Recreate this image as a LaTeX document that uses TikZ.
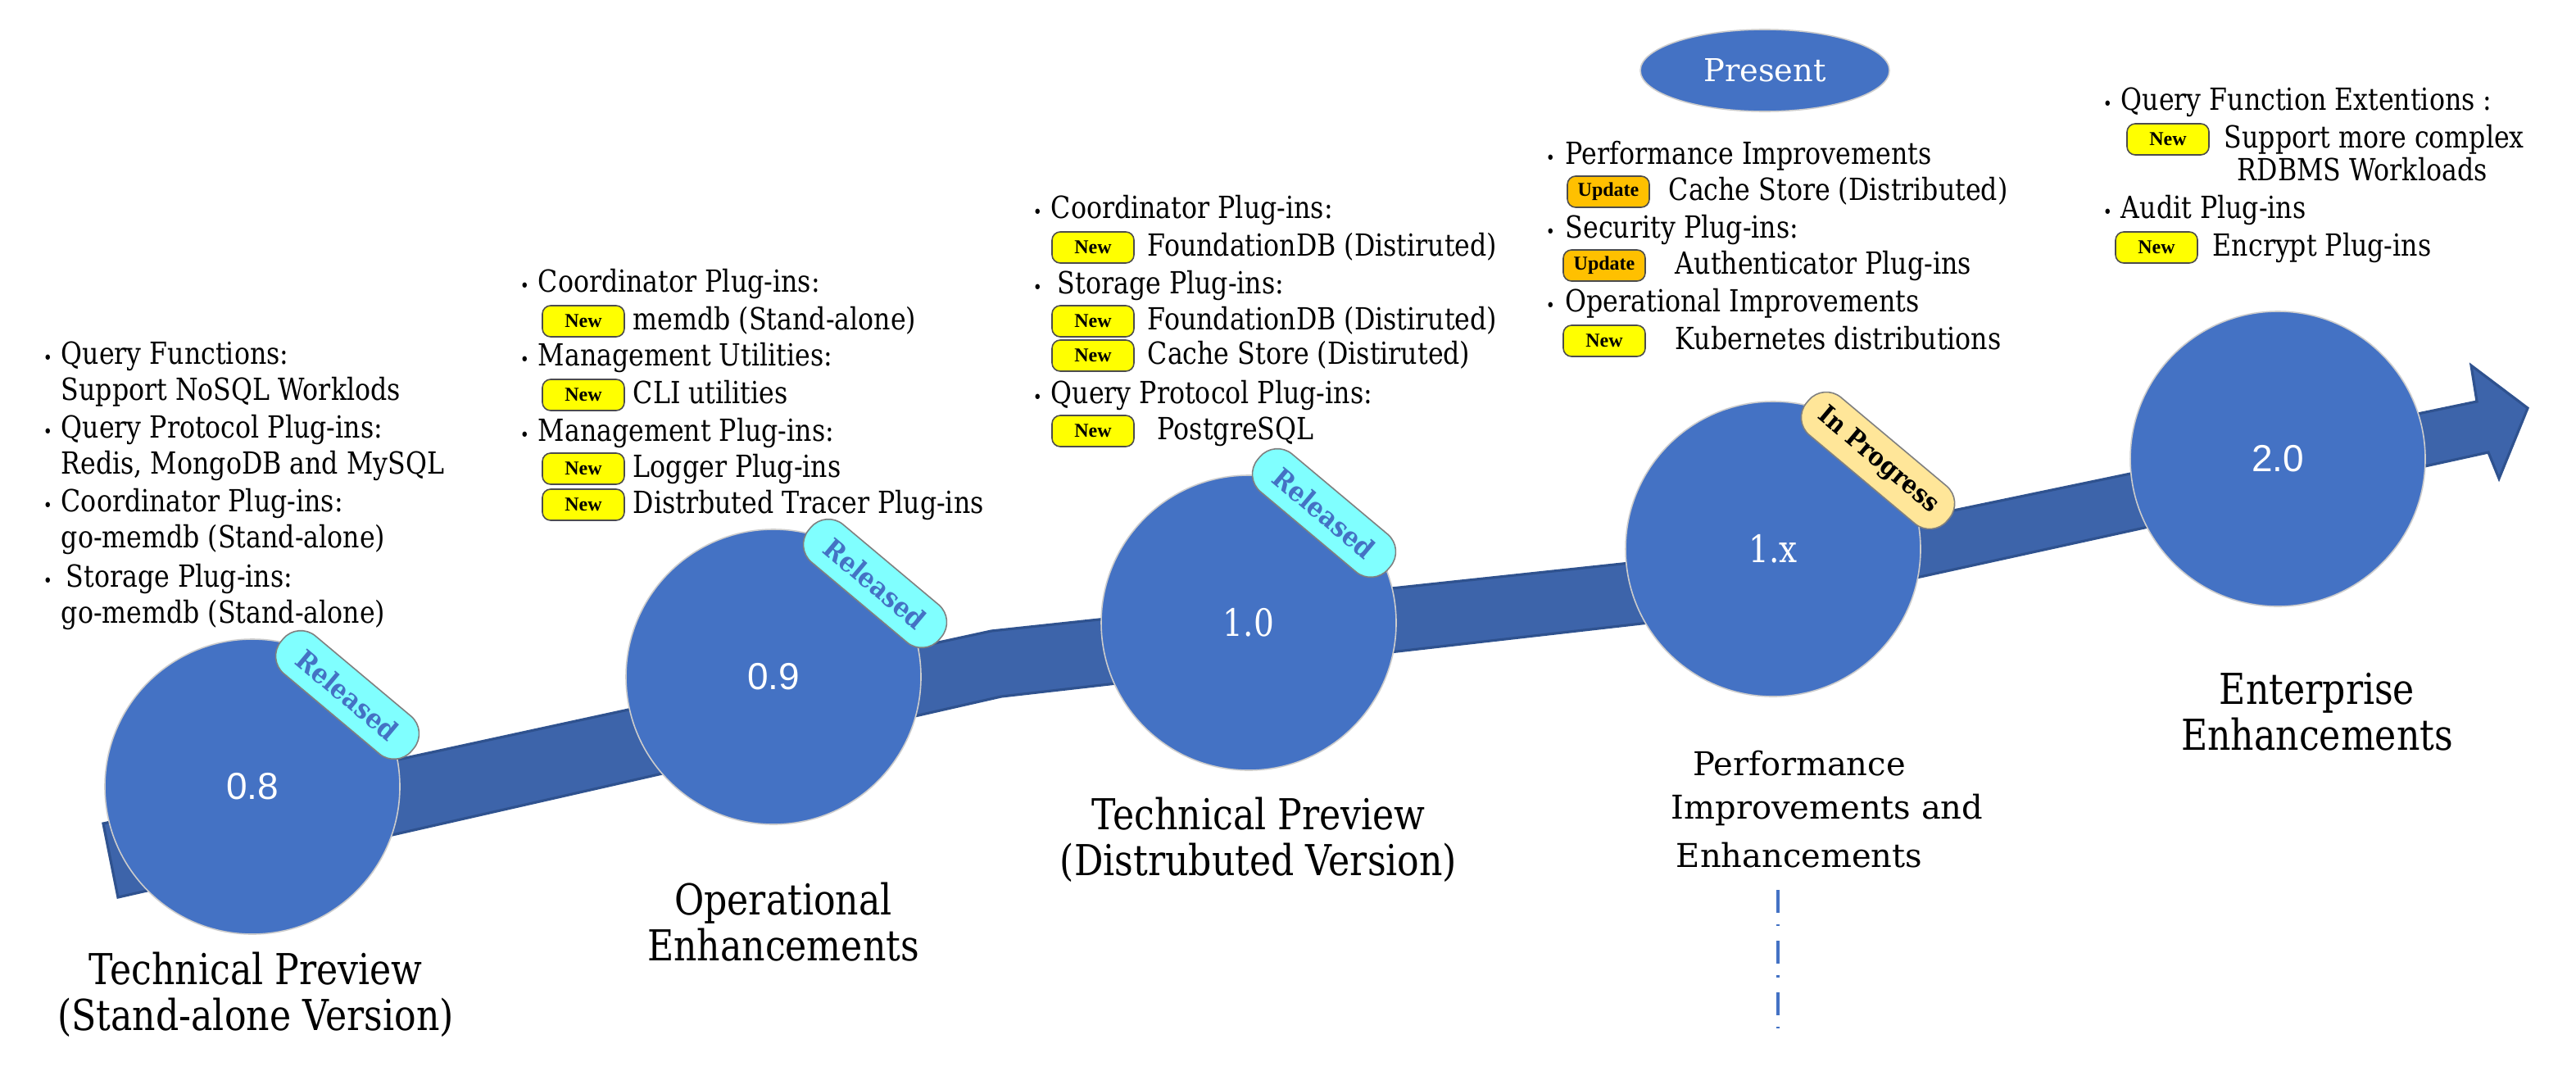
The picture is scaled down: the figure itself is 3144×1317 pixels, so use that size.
\documentclass[tikz,border=0pt]{standalone}
\usepackage{fontspec}
\setmainfont{DejaVu Serif}[FakeStretch=0.85]
\newfontfamily\numfnt{Liberation Sans}
\newfontfamily\wfnt{DejaVu Serif}[FakeStretch=1.0]
\newfontfamily\tagfnt{Liberation Serif}
\newfontfamily\badgefnt{DejaVu Serif}[FakeStretch=0.9]
\usetikzlibrary{shapes.geometric}
\definecolor{cblue}{HTML}{4472C4}
\definecolor{ribbon}{HTML}{3D64AA}
\definecolor{ribbonedge}{HTML}{2F528F}
\definecolor{tagyellow}{HTML}{FFFF00}
\definecolor{tagorange}{HTML}{FFC000}
\definecolor{relcyan}{HTML}{80FFFF}
\definecolor{progyellow}{HTML}{FFE699}
\tikzset{
 body/.style={anchor=mid west, inner sep=0pt, font=\fontsize{9.3}{11}\selectfont},
 bul/.style={anchor=mid west, inner sep=0pt, font=\fontsize{5.5}{7}\selectfont},
 tagbox/.style={draw=black!70, line width=0.4pt, rounded corners=2.5pt, minimum width=25pt, minimum height=9.5pt, inner sep=0pt, font=\tagfnt\bfseries\fontsize{6}{7}\selectfont},
 tagnew/.style={tagbox, fill=tagyellow},
 tagupd/.style={tagbox, fill=tagorange},
 ver/.style={circle, fill=cblue, draw=black!20, line width=0.4pt, minimum size=90pt, inner sep=0pt, text=white},
 lbl/.style={align=center, inner sep=0pt, font=\fontsize{13}{14}\selectfont},
 wlbl/.style={inner sep=0pt, font=\wfnt\fontsize{10}{14}\selectfont},
 badge/.style={rounded corners=7pt, draw=black!50, line width=0.4pt, minimum width=52pt, minimum height=15pt, inner sep=0pt, font=\badgefnt\bfseries\fontsize{8.3}{9}\selectfont, rotate=-40},
 dashpat/.style={draw=cblue, line width=1pt, dash pattern=on 7pt off 3.5pt on 0.6pt off 4.5pt},
}
\begin{document}
\begin{tikzpicture}[x=0.25pt,y=-0.25pt]
\useasboundingbox (0,0) rectangle (3144,1317);
\fill[white] (0,0) rectangle (3144,1317);

% ribbon arrow
\filldraw[fill=ribbon, draw=ribbonedge, line width=0.8pt, line join=miter]
 (126,1005) -- (1210,770) -- (2168,668) -- (3023,490) -- (3016,446) -- (3085,498)
 -- (3050,584) -- (3037,552) -- (2170,742) -- (1222,850) -- (144,1095) -- cycle;

% milestone circles
\node[ver, font=\numfnt\fontsize{11.5}{12}\selectfont] (v08) at (308,960) {0.8};
\node[ver, font=\numfnt\fontsize{11.5}{12}\selectfont] (v09) at (944,826) {0.9};
\node[ver, font=\fontsize{11.5}{12}\selectfont] (v10) at (1524,760) {1.0};
\node[ver, font=\fontsize{11.5}{12}\selectfont] (v1x) at (2164,670) {1.x};
\node[ver, font=\numfnt\fontsize{11.5}{12}\selectfont] (v20) at (2780,560) {2.0};

% badges
\node[badge, fill=relcyan, text=cblue] (b08) at (424,848) {Released};
\node[badge, fill=relcyan, text=cblue] (b09) at (1068,712) {Released};
\node[badge, fill=relcyan, text=cblue] (b10) at (1616,626) {Released};
\node[badge, fill=progyellow, text=black, minimum width=56pt, font=\badgefnt\bfseries\fontsize{7.8}{9}\selectfont] (b1x) at (2292,562) {In Progress};

% present
\node[ellipse, fill=cblue, draw=black!20, line width=0.4pt, minimum width=76pt, minimum height=25pt, text=white, font=\wfnt\fontsize{9.6}{11}\selectfont] (present) at (2154,86) {Present};

% block 0.8
\node[bul] (a1b) at (52,434) {•};
\node[body] (a1) at (74,434) {Query Functions:};
\node[body] (a2) at (74,478) {Support NoSQL Worklods};
\node[bul] (a3b) at (52,524) {•};
\node[body] (a3) at (74,524) {Query Protocol Plug-ins:};
\node[body] (a4) at (74,568) {Redis, MongoDB and MySQL};
\node[bul] (a5b) at (52,614) {•};
\node[body] (a5) at (74,614) {Coordinator Plug-ins:};
\node[body] (a6) at (74,658) {go-memdb (Stand-alone)};
\node[bul] (a7b) at (52,706) {•};
\node[body] (a7) at (80,706) {Storage Plug-ins:};
\node[body] (a8) at (74,750) {go-memdb (Stand-alone)};

% block 0.9
\node[bul] (c1b) at (634,346) {•};
\node[body] (c1) at (656,346) {Coordinator Plug-ins:};
\node[tagnew] (c2t) at (712,392) {New};
\node[body] (c2) at (772,392) {memdb (Stand-alone)};
\node[bul] (c3b) at (634,436) {•};
\node[body] (c3) at (656,436) {Management Utilities:};
\node[tagnew] (c4t) at (712,482) {New};
\node[body] (c4) at (772,482) {CLI utilities};
\node[bul] (c5b) at (634,528) {•};
\node[body] (c5) at (656,528) {Management Plug-ins:};
\node[tagnew] (c6t) at (712,572) {New};
\node[body] (c6) at (772,572) {Logger Plug-ins};
\node[tagnew] (c7t) at (712,616) {New};
\node[body] (c7) at (772,616) {Distrbuted Tracer Plug-ins};

% block 1.0
\node[bul] (d1b) at (1260,256) {•};
\node[body] (d1) at (1282,256) {Coordinator Plug-ins:};
\node[tagnew] (d2t) at (1334,302) {New};
\node[body] (d2) at (1400,302) {FoundationDB (Distiruted)};
\node[bul] (d3b) at (1260,348) {•};
\node[body] (d3) at (1290,348) {Storage Plug-ins:};
\node[tagnew] (d4t) at (1334,392) {New};
\node[body] (d4) at (1400,392) {FoundationDB (Distiruted)};
\node[tagnew] (d5t) at (1334,434) {New};
\node[body] (d5) at (1400,434) {Cache Store (Distiruted)};
\node[bul] (d6b) at (1260,482) {•};
\node[body] (d6) at (1282,482) {Query Protocol Plug-ins:};
\node[tagnew] (d7t) at (1334,526) {New};
\node[body] (d7) at (1412,526) {PostgreSQL};

% block 1.x
\node[bul] (e1b) at (1886,190) {•};
\node[body] (e1) at (1910,190) {Performance Improvements};
\node[tagupd] (e2t) at (1963,234) {Update};
\node[body] (e2) at (2036,234) {Cache Store (Distributed)};
\node[bul] (e3b) at (1886,280) {•};
\node[body] (e3) at (1910,280) {Security Plug-ins:};
\node[tagupd] (e4t) at (1958,324) {Update};
\node[body] (e4) at (2044,324) {Authenticator Plug-ins};
\node[bul] (e5b) at (1886,370) {•};
\node[body] (e5) at (1910,370) {Operational Improvements};
\node[tagnew] (e6t) at (1958,416) {New};
\node[body] (e6) at (2044,416) {Kubernetes distributions};

% block 2.0
\node[bul] (f1b) at (2566,124) {•};
\node[body] (f1) at (2588,124) {Query Function Extentions :};
\node[tagnew] (f2t) at (2646,170) {New};
\node[body] (f2) at (2714,170) {Support more complex};
\node[body] (f3) at (2730,210) {RDBMS Workloads};
\node[bul] (f4b) at (2566,256) {•};
\node[body] (f4) at (2588,256) {Audit Plug-ins};
\node[tagnew] (f5t) at (2632,302) {New};
\node[body] (f5) at (2700,302) {Encrypt Plug-ins};

% milestone labels
\node[lbl] (l08) at (312,1214) {Technical Preview\\(Stand-alone Version)};
\node[lbl] (l09) at (956,1125) {Operational\\Enhancements};
\node[lbl] (l10) at (1536,1025) {Technical Preview\\(Distrubuted Version)};
\node[wlbl] (l1xa) at (2196,932) {Performance};
\node[wlbl] (l1xb) at (2230,988) {Improvements and};
\node[wlbl] (l1xc) at (2196,1044) {Enhancements};
\node[lbl] (l20) at (2828,869) {Enterprise\\Enhancements};

% present marker line
\coordinate (m1) at (2170,1086);
\coordinate (m2) at (2170,1258);
\draw[dashpat] (m1) -- (m2);
\end{tikzpicture}
\end{document}
